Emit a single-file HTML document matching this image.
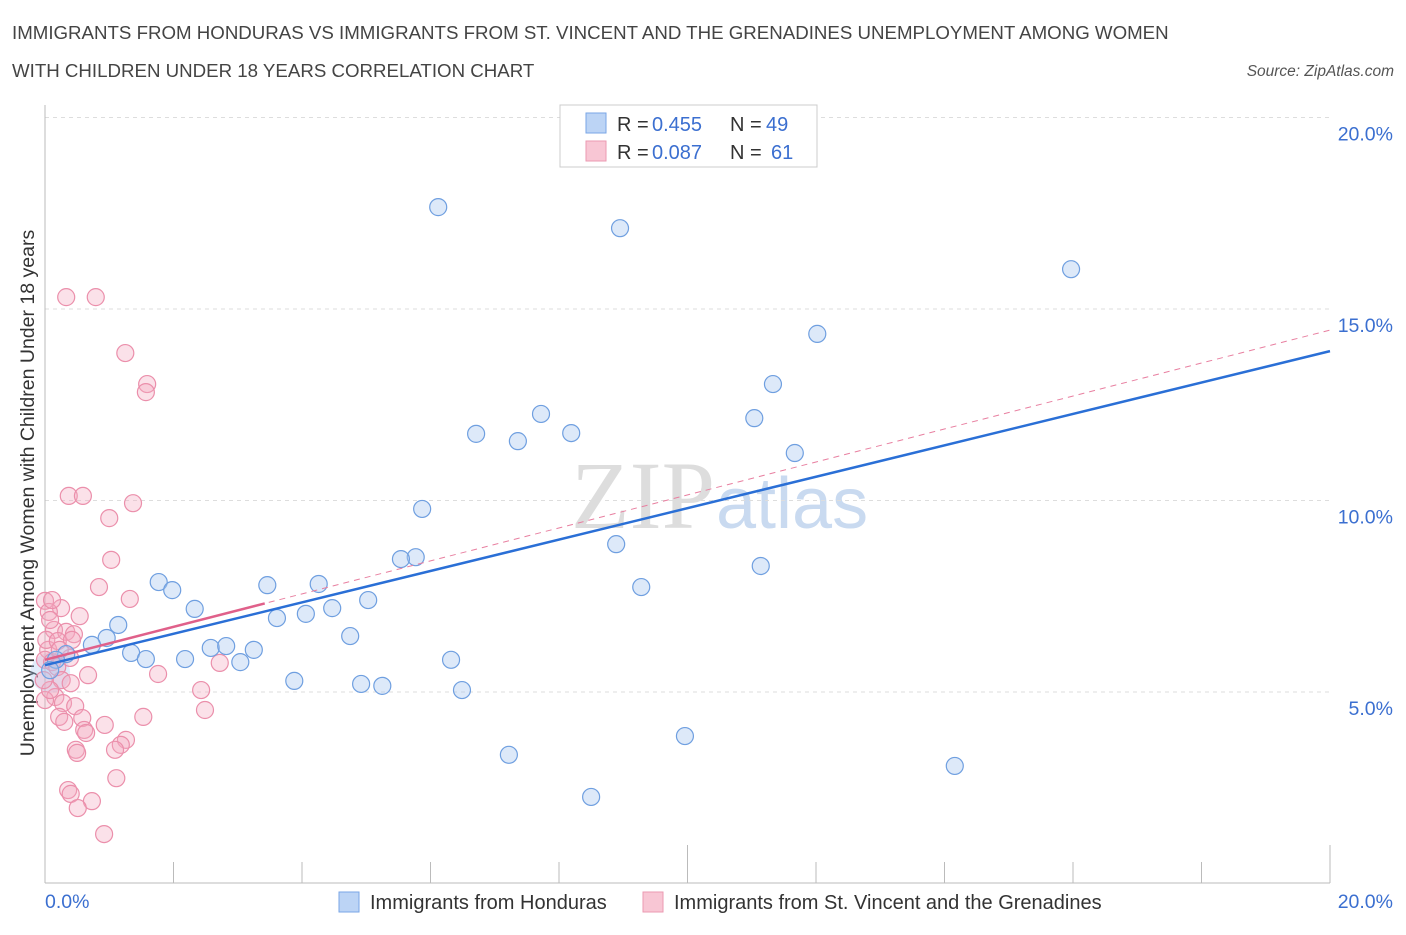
<!DOCTYPE html>
<html><head><meta charset="utf-8"><style>
body{margin:0;background:#fff;font-family:"Liberation Sans",sans-serif;}
</style></head><body>
<svg width="1406" height="930" xmlns="http://www.w3.org/2000/svg" id="svg">
<text x="12" y="39" font-size="18.7" fill="#444">IMMIGRANTS FROM HONDURAS VS IMMIGRANTS FROM ST. VINCENT AND THE GRENADINES UNEMPLOYMENT AMONG WOMEN</text>
<text x="12" y="77" font-size="18.7" fill="#444">WITH CHILDREN UNDER 18 YEARS CORRELATION CHART</text>
<text x="1394" y="76" font-size="15.5" fill="#555" font-style="italic" text-anchor="end">Source: ZipAtlas.com</text>
<text x="715" y="528" font-size="96" fill="#ddd" font-family="Liberation Serif" text-anchor="end">ZIP</text>
<text x="716" y="528" font-size="72" fill="#c9daf0">atlas</text>
<g id="grid"></g>
<line x1="45" y1="105" x2="45" y2="883" stroke="#bbb"/>
<line x1="45" y1="883" x2="1330" y2="883" stroke="#bbb"/>
<g id="xt"></g>
<text x="34" y="493" font-size="19.5" fill="#333" text-anchor="middle" transform="rotate(-90 34 493)">Unemployment Among Women with Children Under 18 years</text>
<text x="45" y="908" font-size="19.5" fill="#3b6fd0">0.0%</text>
<text x="1393" y="908" font-size="19.5" fill="#3b6fd0" text-anchor="end">20.0%</text>
<g id="pts"></g>
<g id="lines"></g>
<g>
<rect x="560" y="105" width="257" height="62" fill="#fff" stroke="#ccc"/>
<rect x="586" y="113" width="20" height="20" fill="#bcd4f5" stroke="#7aa6e6"/>
<rect x="586" y="141" width="20" height="20" fill="#f8c6d4" stroke="#eb9ab2"/>
<text x="617" y="131" font-size="20" fill="#333">R =</text>
<text x="652" y="131" font-size="20" fill="#3b6fd0">0.455</text>
<text x="730" y="131" font-size="20" fill="#333">N =</text>
<text x="766" y="131" font-size="20" fill="#3b6fd0">49</text>
<text x="617" y="159" font-size="20" fill="#333">R =</text>
<text x="652" y="159" font-size="20" fill="#3b6fd0">0.087</text>
<text x="730" y="159" font-size="20" fill="#333">N =</text>
<text x="771" y="159" font-size="20" fill="#3b6fd0">61</text>
</g>
<g>
<rect x="339" y="892" width="20" height="20" fill="#bcd4f5" stroke="#7aa6e6"/>
<text x="370" y="909" font-size="20" fill="#333">Immigrants from Honduras</text>
<rect x="643" y="892" width="20" height="20" fill="#f8c6d4" stroke="#eb9ab2"/>
<text x="674" y="909" font-size="20" fill="#333">Immigrants from St. Vincent and the Grenadines</text>
</g>
</svg>
<script>
const yTicks=[5,10,15,20];
const xTickCount=[0,2,4,6,8,10,12,14,16,18,20];
const bluePx=[[438,207],[620,228],[1071,269],[817,334],[773,384],[541,414],[476,434],[518,441],[571,433],[754,418],[795,453],[422,509],[616,544],[416,557],[401,559],[159,582],[172,590],[267,585],[319,584],[761,566],[641,587],[195,609],[277,618],[306,614],[332,608],[368,600],[118,625],[107,638],[92,645],[350,636],[211,648],[226,646],[254,650],[131,653],[146,659],[185,659],[240,662],[451,660],[66,654],[56,660],[294,681],[361,684],[382,686],[462,690],[685,736],[509,755],[955,766],[591,797],[50,670]];
const pinkPx=[[66,297],[96,297],[125,353],[147,384],[146,392],[69,496],[83,496],[133,503],[109,518],[111,560],[99,587],[130,599],[45,601],[61,608],[49,612],[80,616],[54,630],[66,632],[74,634],[48,650],[70,658],[45,660],[52,662],[57,667],[88,675],[158,674],[62,680],[201,690],[71,683],[55,697],[63,703],[75,706],[205,710],[59,717],[82,718],[64,722],[143,717],[105,725],[84,730],[86,733],[76,750],[77,753],[126,740],[121,745],[115,750],[68,790],[71,794],[116,778],[92,801],[78,808],[104,834],[220,663],[45,700],[50,690],[46,640],[58,641],[72,640],[50,620],[44,680],[60,650],[52,600]];
const blueX=bluePx.map(p=>+((p[0]-45)/64.25).toFixed(2));
const blueY=bluePx.map(p=>+((883.5-p[1])/38.3).toFixed(2));
const pinkX=pinkPx.map(p=>+((p[0]-45)/64.25).toFixed(2));
const pinkY=pinkPx.map(p=>+((883.5-p[1])/38.3).toFixed(2));
const blueFit=[5.70,13.9];
const pinkFit=[5.84,14.45];
const NS="http://www.w3.org/2000/svg";
const X=v=>45+v*64.25, Y=v=>883.5-v*38.3;
function mk(t,a,par){const e=document.createElementNS(NS,t);for(const k in a)e.setAttribute(k,a[k]);document.getElementById(par).appendChild(e);return e;}
yTicks.forEach(t=>{
 const l=mk('line',{x1:45,x2:1330,y1:Y(t),y2:Y(t),stroke:'#ddd','stroke-dasharray':'4 4'},'grid');
 
 
 const tx=mk('text',{x:1393,y:Y(t)+23,'font-size':19.5,fill:'#3b6fd0','text-anchor':'end'},'grid');
 tx.textContent=t.toFixed(1)+'%';
 
 
});
xTickCount.forEach(t=>{
 const l=mk('line',{x1:X(t),x2:X(t),y1:(t==10||t==20)?845:862,y2:883,stroke:'#bbb'},'xt');
 
 
});
const big=mk('circle',{cx:X(0.08),cy:Y(5.5),r:20,fill:'rgba(170,200,240,0.35)'},'pts');


pinkX.forEach((x,i)=>{
 const c=mk('circle',{cx:X(x),cy:Y(pinkY[i]),r:8.5,fill:'rgba(244,170,192,0.35)',stroke:'#eb8fab','stroke-width':1.2},'pts');
 
 
});
blueX.forEach((x,i)=>{
 const c=mk('circle',{cx:X(x),cy:Y(blueY[i]),r:8.5,fill:'rgba(170,200,240,0.4)',stroke:'#6f9fe0','stroke-width':1.2},'pts');
 
 
});
const pd=mk('line',{x1:X(0),y1:Y(pinkFit[0]),x2:X(20),y2:Y(pinkFit[1]),stroke:'#e87fa0','stroke-dasharray':'6 5','stroke-width':1},'lines');


const pe=3.42;
const ps=mk('line',{x1:X(0),y1:Y(pinkFit[0]),x2:X(pe),y2:Y(pinkFit[0]+(pinkFit[1]-pinkFit[0])*pe/20),stroke:'#e0608a','stroke-width':2.5},'lines');


const bl=mk('line',{x1:X(0),y1:Y(blueFit[0]),x2:X(20),y2:Y(blueFit[1]),stroke:'#2a6fd6','stroke-width':2.5},'lines');


</script>
</body></html>
